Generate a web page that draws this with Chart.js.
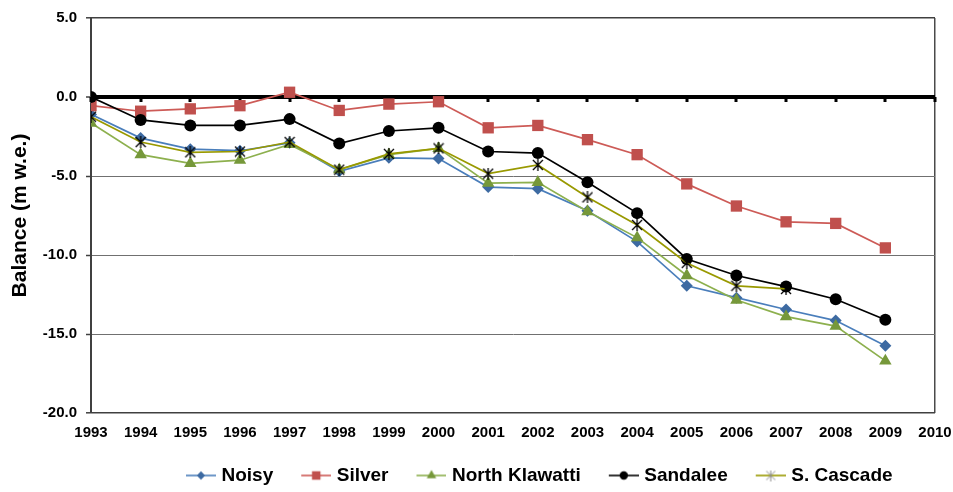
<!DOCTYPE html>
<html>
<head>
<meta charset="utf-8">
<title>Cumulative glacier mass balance</title>
<script src="https://cdn.jsdelivr.net/npm/chart.js@4/dist/chart.umd.min.js"></script>
<style>
  html, body { margin: 0; padding: 0; background: #ffffff; }
  #wrap { width: 953px; height: 492px; }
</style>
</head>
<body>
<div id="wrap"><canvas id="chart" width="953" height="492"></canvas></div>
<script>
// Cumulative mass balance, metres water equivalent
const years = [1993, 1994, 1995, 1996, 1997, 1998, 1999, 2000, 2001, 2002, 2003, 2004, 2005, 2006, 2007, 2008, 2009];
const axisYears = [1993, 1994, 1995, 1996, 1997, 1998, 1999, 2000, 2001, 2002, 2003, 2004, 2005, 2006, 2007, 2008, 2009, 2010];
const balanceTicks = [5, 0, -5, -10, -15, -20];

const noisy = [-1.1, -2.6, -3.3, -3.4, -2.9, -4.7, -3.85, -3.9, -5.7, -5.8, -7.2, -9.15, -11.95, -12.7, -13.45, -14.15, -15.75];
const silver = [-0.55, -0.9, -0.75, -0.55, 0.3, -0.85, -0.45, -0.3, -1.95, -1.8, -2.7, -3.65, -5.5, -6.9, -7.9, -8.0, -9.55];
const northKlawatti = [-1.65, -3.65, -4.2, -4.0, -3.0, -4.6, -3.65, -3.25, -5.45, -5.4, -7.25, -8.9, -11.3, -12.85, -13.9, -14.5, -16.7];
const sandalee = [0.0, -1.45, -1.8, -1.8, -1.4, -2.95, -2.15, -1.95, -3.45, -3.55, -5.4, -7.35, -10.25, -11.3, -12.0, -12.8, -14.1];
const southCascade = [-1.25, -2.85, -3.5, -3.45, -2.85, -4.6, -3.6, -3.25, -4.85, -4.3, -6.35, -8.1, -10.5, -11.95, -12.15];

const FONT = "'Liberation Sans', Arial, Helvetica, sans-serif";
Chart.defaults.font.family = FONT;
Chart.defaults.color = '#000000';

function pairs(values) {
  return values.map((v, i) => ({ x: years[i], y: v }));
}

// asterisk marker: an X crossed by a vertical stroke
function starMarker(size, color, width) {
  const c = document.createElement('canvas');
  c.width = size; c.height = size;
  const g = c.getContext('2d');
  g.strokeStyle = color; g.lineWidth = width; g.lineCap = 'butt';
  const m = 1, e = size - 1, h = size / 2;
  g.beginPath();
  g.moveTo(m, m); g.lineTo(e, e);
  g.moveTo(e, m); g.lineTo(m, e);
  g.moveTo(h, 0); g.lineTo(h, size);
  g.stroke();
  return c;
}

// legend swatch: a short stroke of the series line with its marker in the middle,
// preceded by a blank lead-in so items are spaced apart
const SWATCH_LEAD = 12;
function legendSwatch(lineColor, marker) {
  const c = document.createElement('canvas');
  c.width = 30 + SWATCH_LEAD; c.height = 14;
  const g = c.getContext('2d');
  g.translate(SWATCH_LEAD, 0);
  g.strokeStyle = lineColor; g.lineWidth = 1.6;
  g.beginPath(); g.moveTo(0, 7); g.lineTo(30, 7); g.stroke();
  if (marker.image) {
    g.drawImage(marker.image, 15 - marker.image.width / 2, 7 - marker.image.height / 2);
  } else {
    g.fillStyle = marker.color; g.strokeStyle = marker.color;
    Chart.helpers.drawPoint(g, { pointStyle: marker.style, radius: marker.radius, rotation: 0, borderWidth: 0 }, 15, 7);
  }
  return c;
}

const starPoint = starMarker(12, '#000000', 1.3);

const series = [
  { label: 'Noisy', values: noisy, line: '#4A7EBB', mark: '#3D6AA2', style: 'rectRot', radius: 6, order: 4 },
  { label: 'Silver', values: silver, line: '#CD5B57', mark: '#C0504D', style: 'rect', radius: 8, order: 3 },
  { label: 'North Klawatti', values: northKlawatti, line: '#8DB04E', mark: '#76983A', style: 'triangle', radius: 7.2, order: 2 },
  { label: 'Sandalee', values: sandalee, line: '#000000', mark: '#000000', style: 'circle', radius: 6, order: 1 },
  { label: 'S. Cascade', values: southCascade, line: '#999900', mark: '#000000', style: starPoint, radius: 6, order: 0 }
];

const swatches = [
  legendSwatch('#4A7EBB', { style: 'rectRot', radius: 4.2, color: '#3D6AA2' }),
  legendSwatch('#CD5B57', { style: 'rect', radius: 6, color: '#C0504D' }),
  legendSwatch('#8DB04E', { style: 'triangle', radius: 5.5, color: '#76983A' }),
  legendSwatch('#000000', { style: 'circle', radius: 4.2, color: '#000000' }),
  legendSwatch('#999900', { image: starMarker(11, '#8a8a8a', 1) })
];

const datasets = series.map(s => ({
  label: s.label,
  data: pairs(s.values),
  borderColor: s.line,
  borderWidth: 1.7,
  backgroundColor: s.mark,
  pointStyle: s.style,
  pointRadius: s.radius,
  pointBackgroundColor: s.mark,
  pointBorderColor: s.mark,
  pointBorderWidth: 0,
  tension: 0,
  fill: false,
  order: s.order
}));

// heavy zero line tick marks hanging below y = 0
const zeroAxisTicks = {
  id: 'zeroAxisTicks',
  beforeDatasetsDraw(chart) {
    const { ctx, scales: { x, y } } = chart;
    const y0 = y.getPixelForValue(0);
    ctx.save();
    ctx.fillStyle = '#000000';
    axisYears.forEach(v => {
      const px = x.getPixelForValue(v);
      ctx.fillRect(Math.round(px) - 1.5, y0, 3, 5);
    });
    ctx.restore();
  }
};

// the legend row sits under the right-hand part of the plot
const LEGEND_SHIFT = 158;
const legendOffset = {
  id: 'legendOffset',
  afterLayout(chart) {
    if (chart.legend) {
      chart.legend.left += LEGEND_SHIFT;
      chart.legend.right += LEGEND_SHIFT;
    }
  }
};

new Chart(document.getElementById('chart'), {
  type: 'line',
  data: { datasets },
  plugins: [zeroAxisTicks, legendOffset],
  options: {
    responsive: false,
    devicePixelRatio: 1,
    animation: false,
    events: [],
    layout: { padding: { left: 0, right: 18, top: 18, bottom: -3 } },
    plugins: {
      tooltip: { enabled: false },
      legend: {
        position: 'bottom',
        align: 'start',
        labels: {
          usePointStyle: true,
          pointStyleWidth: 34,
          padding: 20,
          color: '#000000',
          font: { size: 19, weight: 'bold', family: FONT },
          generateLabels: chart => chart.data.datasets.map((ds, i) => ({
            text: ds.label,
            pointStyle: swatches[i],
            fillStyle: 'transparent',
            strokeStyle: 'transparent',
            lineWidth: 0,
            hidden: false,
            datasetIndex: i
          }))
        }
      }
    },
    scales: {
      x: {
        type: 'linear',
        min: axisYears[0],
        max: axisYears[axisYears.length - 1],
        afterBuildTicks: scale => { scale.ticks = axisYears.map(v => ({ value: v })); },
        afterFit: scale => {
          scale.height = 33;
          // end labels fit inside the outer padding
          scale.paddingLeft = 0;
          scale.paddingRight = 0;
        },
        border: { display: false },
        grid: {
          drawTicks: false,
          color: ctx => (ctx.tick && ctx.tick.value === axisYears[axisYears.length - 1]) ? '#4a4a4a' : 'rgba(0,0,0,0)',
          lineWidth: 1.5
        },
        ticks: {
          autoSkip: false,
          maxRotation: 0,
          padding: 11,
          color: '#000000',
          font: { size: 15, weight: 'bold', family: FONT },
          callback: v => String(v)
        }
      },
      y: {
        type: 'linear',
        min: balanceTicks[balanceTicks.length - 1],
        max: balanceTicks[0],
        afterBuildTicks: scale => { scale.ticks = balanceTicks.map(v => ({ value: v })); },
        afterFit: scale => { scale.width = 91; },
        border: { display: true, color: '#404040', width: 2 },
        grid: {
          drawTicks: true,
          tickLength: 5,
          tickWidth: 1.5,
          tickColor: '#404040',
          color: ctx => {
            const v = ctx.tick ? ctx.tick.value : null;
            if (v === 0) return '#000000';
            if (v === balanceTicks[0] || v === balanceTicks[balanceTicks.length - 1]) return '#404040';
            return '#707070';
          },
          lineWidth: ctx => {
            const v = ctx.tick ? ctx.tick.value : null;
            if (v === 0) return 4;
            if (v === balanceTicks[0] || v === balanceTicks[balanceTicks.length - 1]) return 1.6;
            return 1;
          }
        },
        ticks: {
          padding: 9,
          color: '#000000',
          font: { size: 15, weight: 'bold', family: FONT },
          callback: v => Number(v).toFixed(1)
        },
        title: {
          display: true,
          text: 'Balance (m w.e.)',
          color: '#000000',
          font: { size: 21, weight: 'bold', family: FONT },
          padding: { top: 8, bottom: 0 }
        }
      }
    }
  }
});
</script>
</body>
</html>
